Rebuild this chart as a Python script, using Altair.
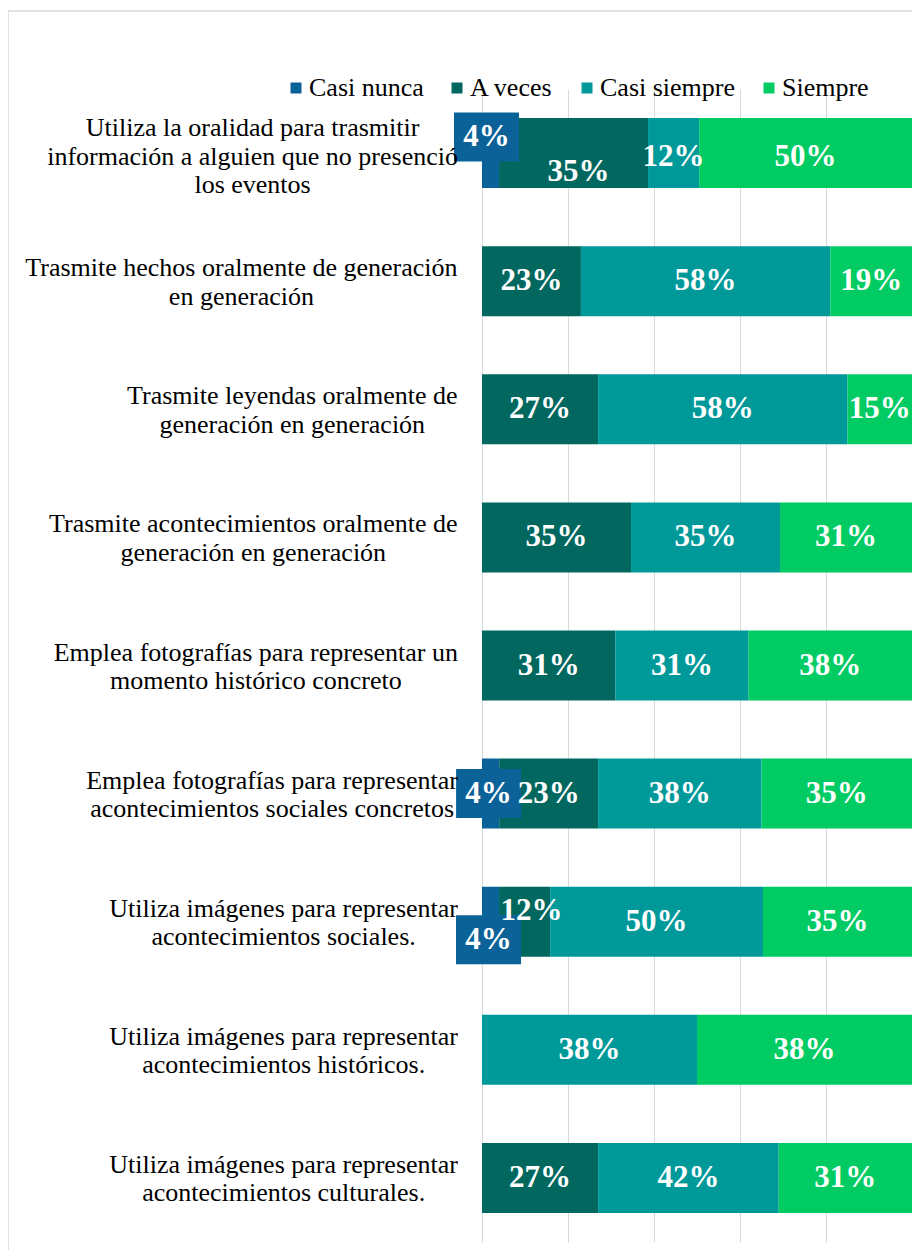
import altair as alt
import pandas as pd

categories = ["Casi nunca", "A veces", "Casi siempre", "Siempre"]
colors = ["#0B6298", "#01675F", "#00999A", "#01CB63"]

label_lines = [
    ["Utiliza la oralidad para trasmitir", "información a alguien que no presenció", "los eventos"],
    ["Trasmite hechos oralmente de generación", "en generación"],
    ["Trasmite leyendas oralmente de", "generación en generación"],
    ["Trasmite acontecimientos oralmente de", "generación en generación"],
    ["Emplea fotografías para representar un", "momento histórico concreto"],
    ["Emplea fotografías para representar", "acontecimientos sociales concretos"],
    ["Utiliza imágenes para representar", "acontecimientos sociales."],
    ["Utiliza imágenes para representar", "acontecimientos históricos."],
    ["Utiliza imágenes para representar", "acontecimientos culturales."],
]
items = [" ".join(l) for l in label_lines]

casi_nunca = [4, 0, 0, 0, 0, 4, 4, 0, 0]
a_veces = [35, 23, 27, 35, 31, 23, 12, 0, 27]
casi_siempre = [12, 58, 58, 35, 31, 38, 50, 38, 42]
siempre = [50, 19, 15, 31, 38, 35, 35, 38, 31]
series = [casi_nunca, a_veces, casi_siempre, siempre]

# label nudges (style): (row, category) -> (dx, dy, boxed)
nudges = {
    (0, 0): (-4, -16, True),
    (0, 1): (5, 19, False),
    (0, 2): (0, 4, False),
    (0, 3): (0, 4, False),
    (5, 0): (-2, 0, True),
    (6, 0): (-2, 18, True),
    (6, 1): (7, -11, False),
}

PLOT_W = 430
PLOT_H = 1153
LABEL_FS = 26
LINE_H = 28.5

# Times / Liberation Serif advance widths (per 1000 em)
TW = {" ": 250, "a": 444, "b": 500, "c": 444, "d": 500, "e": 444, "f": 333, "g": 500,
      "h": 500, "i": 278, "j": 278, "k": 500, "l": 278, "m": 778, "n": 500, "o": 500,
      "p": 500, "q": 500, "r": 333, "s": 389, "t": 278, "u": 500, "v": 500, "w": 722,
      "x": 500, "y": 500, "z": 444, "á": 444, "é": 444, "í": 278, "ó": 500, "ú": 500,
      "ñ": 500, ".": 250, "U": 722, "T": 611, "E": 611}


def text_width(s):
    return sum(TW.get(ch, 500) for ch in s) / 1000.0 * LABEL_FS


rows = []
for i, it in enumerate(items):
    for k, cat in enumerate(categories):
        v = series[k][i]
        if v > 0:
            rows.append({"item": it, "cat": cat, "order": k, "value": v,
                         "label": f"{v}%", "key": f"{i}-{k}"})
df = pd.DataFrame(rows)

lab_rows = []
for it, lines in zip(items, label_lines):
    w = max(text_width(l) for l in lines)
    cx_px = -24 - w / 2.0
    lab_rows.append({"item": it, "label": "\n".join(lines), "cx": cx_px / PLOT_W,
                     "nlines": len(lines)})
lab_df = pd.DataFrame(lab_rows)

yenc = alt.Y("item:N", sort=items,
             scale=alt.Scale(domain=items, paddingInner=0.4535, paddingOuter=0.2267),
             axis=None)
xaxis = alt.Axis(values=[0, 0.2, 0.4, 0.6, 0.8, 1], labels=False, ticks=False,
                 domain=False, grid=True, gridColor="#D9D9D9", gridWidth=1, title=None)
xscale = alt.Scale(domain=[0, 1], nice=False)

base = alt.Chart(df).transform_stack(
    stack="value", groupby=["item"], as_=["v0", "v1"], offset="normalize",
    sort=[alt.SortField("order", "ascending")]
).transform_calculate(mid="(datum.v0 + datum.v1) / 2")

bars = base.mark_bar().encode(
    x=alt.X("v0:Q", scale=xscale, axis=xaxis),
    x2="v1:Q",
    y=yenc,
    color=alt.Color("cat:N", scale=alt.Scale(domain=categories, range=colors),
                    legend=alt.Legend(orient="none", legendX=-199, legendY=-14,
                                      direction="horizontal", title=None,
                                      symbolType="square", symbolSize=121,
                                      symbolStrokeWidth=0, labelFont="Liberation Serif",
                                      labelFontSize=26, labelColor="#000000",
                                      labelOffset=0, columnPadding=20, padding=0,
                                      labelLimit=400)),
    order=alt.Order("order:Q"),
)

nudged_keys = [f"{r}-{c}" for (r, c) in nudges]
keys_expr = "[" + ",".join(f"'{k}'" for k in nudged_keys) + "]"

txt_style = dict(font="Liberation Serif", fontSize=31, fontWeight="bold", color="white",
                 align="center", baseline="middle")

texts = base.transform_filter(f"indexof({keys_expr}, datum.key) < 0").mark_text(**txt_style).encode(
    x=alt.X("mid:Q", scale=xscale, axis=xaxis), y=yenc, text="label:N")

layers = [bars]
extra_text = [texts]
for (r, c), (dx, dy, boxed) in nudges.items():
    key = f"{r}-{c}"
    sub = base.transform_filter(f"datum.key == '{key}'")
    if boxed:
        path = f"M{dx - 32.5},{dy - 24.5}h65v49h-65Z"
        layers.append(sub.mark_point(shape=path, size=4, filled=True, opacity=1,
                                     color=colors[c], strokeWidth=0).encode(
            x=alt.X("mid:Q", scale=xscale, axis=xaxis), y=yenc))
    extra_text.append(sub.mark_text(dx=dx, dy=dy, **txt_style).encode(
        x=alt.X("mid:Q", scale=xscale, axis=xaxis), y=yenc, text="label:N"))

ylabel_layers = []
for n, shift in [(2, -13), (3, -25)]:
    ylabel_layers.append(
        alt.Chart(lab_df).transform_filter(f"datum.nlines == {n}").mark_text(
            font="Liberation Serif", fontSize=LABEL_FS, color="#000000", align="center",
            baseline="middle", lineBreak="\n", lineHeight=LINE_H, dy=shift).encode(
            x=alt.X("cx:Q", scale=xscale, axis=xaxis), y=yenc, text="label:N"))

frame = alt.Chart(pd.DataFrame({"a": [0]})).mark_rect(
    filled=False, color="#D9D9D9", strokeWidth=1.5).encode(
    x=alt.value(-474), x2=alt.value(700), y=alt.value(-78), y2=alt.value(1400))

chart = alt.layer(frame, *layers, *extra_text, *ylabel_layers).properties(
    width=PLOT_W, height=PLOT_H,
    autosize=alt.AutoSizeParams(type="none"),
    padding={"left": 474, "top": 81, "right": 0, "bottom": 8},
).configure_view(strokeWidth=0)

chart.save("out.html", embed_options={"renderer": "svg", "actions": False})
